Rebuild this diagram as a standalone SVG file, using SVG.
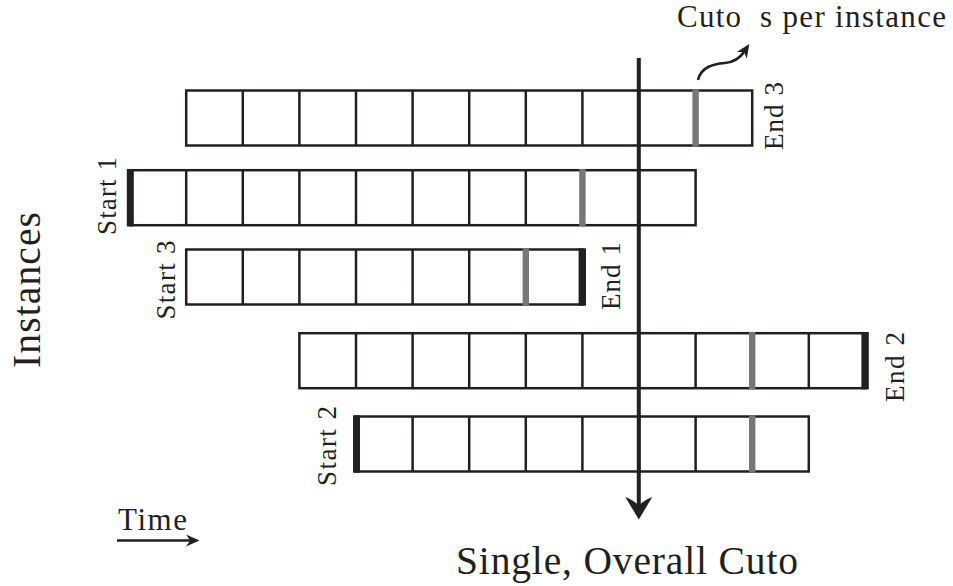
<svg xmlns="http://www.w3.org/2000/svg" width="953" height="586" viewBox="0 0 953 586">
  <style>
    .cell { fill: none; stroke: #231f20; stroke-width: 2.5; }
    .bar { fill: #231f20; }
    .cut { fill: #777777; }
    .lbl { font-family: "Liberation Serif", "Times New Roman", serif; font-size: 27px; fill: #231f20; }
    .big { font-family: "Liberation Serif", "Times New Roman", serif; font-size: 39.5px; fill: #231f20; }
    .mid { font-family: "Liberation Serif", "Times New Roman", serif; font-size: 31px; fill: #231f20; }
    .wire { fill: none; stroke: #231f20; }
    .head { fill: #231f20; }
  </style>
  <defs>
    <!-- small stealth-style head; the notch sits on the line end -->
    <marker id="head-sm" markerUnits="userSpaceOnUse" viewBox="-6 -8 18 16" refX="0" refY="0" markerWidth="18" markerHeight="16" orient="auto" overflow="visible">
      <path d="M9.5,0 L-4,-6 Q-1.5,-2.5 0,0 Q-1.5,2.5 -4,6 Z" fill="#231f20"/>
    </marker>
  </defs>

  <rect width="953" height="586" fill="#ffffff"/>

  <!-- instance rows: cells of 56.6 px -->
  <g id="row-1">
    <rect class="cell" x="186.2" y="90.5" width="566" height="55"/>
    <path class="cell" d="M242.8,90.5V145.5M299.4,90.5V145.5M356,90.5V145.5M412.6,90.5V145.5M469.2,90.5V145.5M525.8,90.5V145.5M582.4,90.5V145.5M639,90.5V145.5M695.6,90.5V145.5"/>
    <rect class="cut" x="692.4" y="89.3" width="6.4" height="57.4"/>
  </g>

  <g id="row-2">
    <rect class="cell" x="129.6" y="170.2" width="566" height="55"/>
    <path class="cell" d="M186.2,170.2V225.2M242.8,170.2V225.2M299.4,170.2V225.2M356,170.2V225.2M412.6,170.2V225.2M469.2,170.2V225.2M525.8,170.2V225.2M582.4,170.2V225.2M639,170.2V225.2"/>
    <rect class="bar" x="126.8" y="169" width="7" height="57.4"/>
    <rect class="cut" x="579.2" y="169" width="6.4" height="57.4"/>
  </g>

  <g id="row-3">
    <rect class="cell" x="186.2" y="249.5" width="396.2" height="55"/>
    <path class="cell" d="M242.8,249.5V304.5M299.4,249.5V304.5M356,249.5V304.5M412.6,249.5V304.5M469.2,249.5V304.5M525.8,249.5V304.5"/>
    <rect class="cut" x="522.6" y="248.3" width="6.4" height="57.4"/>
    <rect class="bar" x="578.6" y="248.3" width="7.4" height="57.4"/>
  </g>

  <g id="row-4">
    <rect class="cell" x="299.4" y="333.2" width="566" height="55"/>
    <path class="cell" d="M356,333.2V388.2M412.6,333.2V388.2M469.2,333.2V388.2M525.8,333.2V388.2M582.4,333.2V388.2M639,333.2V388.2M695.6,333.2V388.2M752.2,333.2V388.2M808.8,333.2V388.2"/>
    <rect class="cut" x="749" y="332" width="6.4" height="57.4"/>
    <rect class="bar" x="861.4" y="332" width="7.4" height="57.4"/>
  </g>

  <g id="row-5">
    <rect class="cell" x="356" y="416.5" width="452.8" height="55"/>
    <path class="cell" d="M412.6,416.5V471.5M469.2,416.5V471.5M525.8,416.5V471.5M582.4,416.5V471.5M639,416.5V471.5M695.6,416.5V471.5M752.2,416.5V471.5"/>
    <rect class="bar" x="353" y="415.3" width="7" height="57.4"/>
    <rect class="cut" x="749" y="415.3" width="6.4" height="57.4"/>
  </g>

  <!-- start / end labels, read bottom to top -->
  <g id="labels">
    <text class="lbl" text-anchor="middle" textLength="78" transform="translate(116,196) rotate(-90)">Start 1</text>
    <text class="lbl" text-anchor="middle" textLength="79" transform="translate(175,280) rotate(-90)">Start 3</text>
    <text class="lbl" text-anchor="middle" textLength="80" transform="translate(336,446) rotate(-90)">Start 2</text>
    <text class="lbl" text-anchor="middle" textLength="68" transform="translate(783,116) rotate(-90)">End 3</text>
    <text class="lbl" text-anchor="middle" textLength="68" transform="translate(620,276) rotate(-90)">End 1</text>
    <text class="lbl" text-anchor="middle" textLength="70" transform="translate(904,367) rotate(-90)">End 2</text>
  </g>

  <!-- connectors -->
  <g id="connectors">
    <line class="wire" x1="638.8" y1="58" x2="638.8" y2="506" stroke-width="4"/>
    <path class="head" d="M638.8,519.5 L625.3,497 Q634,500.5 638.8,505.5 Q643.6,500.5 652.3,497 Z"/>
    <path class="wire" d="M698,80 C701,67 713,64 725,63 C735,62 740,58 744,52" stroke-width="2.6" marker-end="url(#head-sm)"/>
    <line class="wire" x1="117" y1="540.5" x2="190" y2="540.5" stroke-width="2.4" marker-end="url(#head-sm)"/>
  </g>

  <!-- axis and callout captions -->
  <g id="captions">
    <text class="mid" x="677" y="27" textLength="64">Cuto</text>
    <text class="mid" x="760" y="27" textLength="186">s per instance</text>
    <text class="big" x="456" y="574" textLength="342">Single, Overall Cuto</text>
    <text class="mid" x="118" y="530" textLength="69">Time</text>
    <text class="big" text-anchor="middle" textLength="156" transform="translate(40,290) rotate(-90)">Instances</text>
  </g>
</svg>
